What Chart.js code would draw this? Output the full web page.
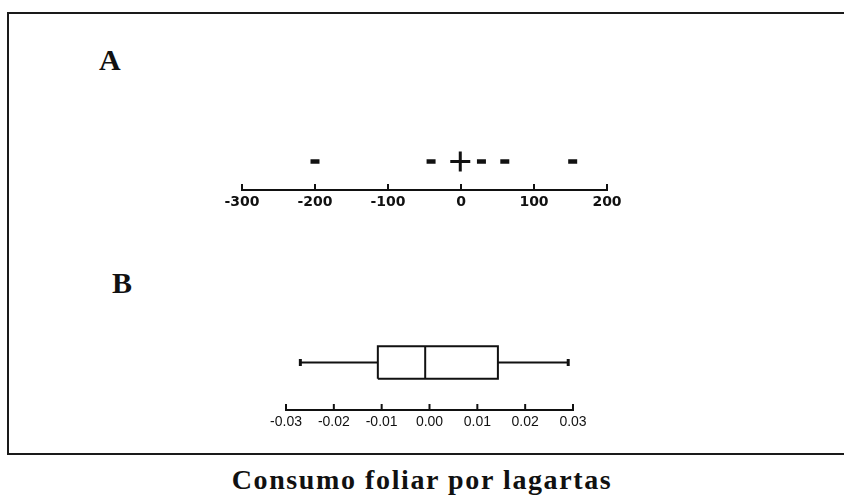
<!DOCTYPE html>
<html>
<head>
<meta charset="utf-8">
<script src="https://cdn.jsdelivr.net/npm/chart.js@4"></script>
<style>
  html, body { margin: 0; padding: 0; background: #fff; overflow: hidden; }
  body { width: 844px; height: 501px; position: relative; overflow: hidden; }
  .frame { position: absolute; left: 7px; top: 12px; width: 1000px; height: 439px; border: 2px solid #1a1a1a; }
  .panel { position: absolute; left: 0; width: 844px; }
  .letter { position: absolute; font-family: "Liberation Serif", serif; font-weight: bold; font-size: 30px; line-height: 1; color: #111; }
  .title { position: absolute; left: 0; width: 844px; top: 466px; text-align: center; font-family: "Liberation Serif", serif; font-weight: bold; font-size: 28px; letter-spacing: 1.6px; line-height: 1; color: #111; }
</style>
</head>
<body>
<div class="frame"></div>
<div class="letter" style="left:99px; top:45px;">A</div>
<div class="letter" style="left:112px; top:268px;">B</div>
<div class="panel" style="top:120px; height:100px;"><canvas id="chartA"></canvas></div>
<div class="panel" style="top:300px; height:140px;"><canvas id="chartB"></canvas></div>
<div class="title">Consumo foliar por lagartas</div>
<script>
// Panel A: individual values
const dotValues = [-200, -41, 28, 60, 153];
const crossValues = [-1];
const ticksA = [-300, -200, -100, 0, 100, 200];

// Panel B: box plot summary
const whiskerLow = -0.027;
const quartile1 = -0.0108;
const median = -0.0009;
const quartile3 = 0.0143;
const whiskerHigh = 0.029;
const ticksB = [-0.03, -0.02, -0.01, 0.00, 0.01, 0.02, 0.03];

const ink = '#111';

// tick marks pointing up from the axis line
const upTicks = {
  id: 'upTicks',
  afterDatasetsDraw(chart, args, opts) {
    const s = chart.scales.x;
    const ctx = chart.ctx;
    ctx.save();
    ctx.strokeStyle = ink;
    ctx.lineWidth = 2;
    s.ticks.forEach(t => {
      const x = s.getPixelForValue(t.value);
      ctx.beginPath();
      ctx.moveTo(x, s.top + 1);
      ctx.lineTo(x, s.top - opts.length);
      ctx.stroke();
    });
    ctx.restore();
  }
};

function xAxis(min, max, ticks, font, fmt) {
  return {
    type: 'linear', min, max,
    afterBuildTicks: s => { s.ticks = ticks.map(v => ({ value: v })); },
    afterFit: s => { s.height = 30; },
    grid: { display: false, drawTicks: false },
    border: { display: true, color: ink, width: 2 },
    ticks: { color: ink, font, padding: 4, maxRotation: 0, autoSkip: false, callback: fmt }
  };
}

const common = {
  responsive: true, maintainAspectRatio: false, animation: false,
  plugins: { legend: { display: false }, tooltip: { enabled: false }, upTicks: { length: 6 } },
  events: []
};

new Chart(document.getElementById('chartA'), {
  type: 'scatter',
  data: {
    datasets: [
      {
        data: dotValues.map(v => ({ x: v, y: 0 })),
        pointStyle: 'line', radius: 4.5, borderWidth: 4.5,
        borderColor: ink, backgroundColor: ink
      },
      {
        data: crossValues.map(v => ({ x: v, y: 0 })),
        pointStyle: 'cross', radius: 10, borderWidth: 3,
        borderColor: ink, backgroundColor: ink
      }
    ]
  },
  options: Object.assign({}, common, {
    layout: { padding: { left: 242, right: 237, top: 13, bottom: 0 } },
    scales: {
      x: xAxis(-300, 200, ticksA, { family: 'DejaVu Sans', weight: 'bold', size: 14 }, v => String(v)),
      y: { display: false, min: -1, max: 1 }
    }
  }),
  plugins: [upTicks]
});

const boxHalf = 0.34;
const lineStyle = { showLine: true, pointRadius: 0, borderWidth: 2, borderColor: ink, tension: 0, fill: false };

new Chart(document.getElementById('chartB'), {
  type: 'scatter',
  data: {
    datasets: [
      Object.assign({
        data: [
          { x: quartile1, y: -boxHalf }, { x: quartile3, y: -boxHalf },
          { x: quartile3, y: boxHalf }, { x: quartile1, y: boxHalf },
          { x: quartile1, y: -boxHalf }
        ]
      }, lineStyle),
      Object.assign({ data: [{ x: median, y: -boxHalf }, { x: median, y: boxHalf }] }, lineStyle),
      Object.assign({ data: [{ x: whiskerLow, y: 0 }, { x: quartile1, y: 0 }] }, lineStyle),
      Object.assign({ data: [{ x: quartile3, y: 0 }, { x: whiskerHigh, y: 0 }] }, lineStyle),
      {
        data: [{ x: whiskerLow, y: 0 }, { x: whiskerHigh, y: 0 }],
        pointStyle: 'line', rotation: 90, radius: 3.5, borderWidth: 3, borderColor: ink
      }
    ]
  },
  options: Object.assign({}, common, {
    layout: { padding: { left: 286, right: 271, top: 15, bottom: 0 } },
    scales: {
      x: xAxis(-0.03, 0.03, ticksB, { family: 'Liberation Sans Narrow, Liberation Sans', size: 14 }, v => v.toFixed(2)),
      y: { display: false, min: -1, max: 1 }
    }
  }),
  plugins: [upTicks]
});
</script>
</body>
</html>
